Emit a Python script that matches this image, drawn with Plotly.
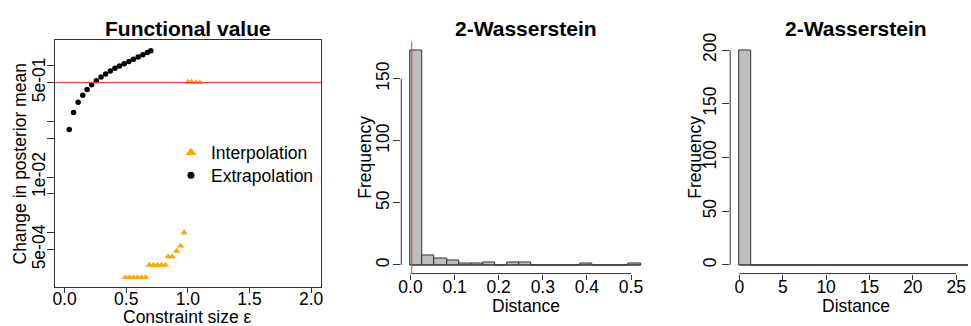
import plotly.graph_objects as go

W, H = 971, 326
FONT = "Liberation Sans, Arial, Helvetica, sans-serif"
FS = 17.5
AX = "#333333"
ORANGE = "#FFA500"

# ---- Functional value: change in posterior mean vs constraint size ----
eps_extrap = [0.038, 0.073, 0.110, 0.148, 0.183, 0.220, 0.258, 0.296, 0.333, 0.371,
              0.409, 0.446, 0.484, 0.522, 0.559, 0.597, 0.635, 0.672, 0.700]
val_extrap = [0.0713, 0.145, 0.220, 0.295, 0.375, 0.453, 0.539, 0.625, 0.713, 0.805,
              0.897, 0.984, 1.08, 1.19, 1.30, 1.44, 1.57, 1.73, 1.85]

eps_interp = [0.495, 0.527, 0.559, 0.591, 0.624, 0.656,
              0.688, 0.720, 0.753, 0.785, 0.817,
              0.841, 0.873, 0.909, 0.941, 0.970,
              1.000, 1.030, 1.065, 1.097]
val_interp = [1.58e-4, 1.58e-4, 1.58e-4, 1.58e-4, 1.58e-4, 1.58e-4,
              2.64e-4, 2.64e-4, 2.64e-4, 2.64e-4, 2.64e-4,
              3.73e-4, 3.73e-4, 4.70e-4, 5.81e-4, 1.01e-3,
              0.51, 0.51, 0.50, 0.50]

ref_value = 0.5
eps_ticks = [0, 0.5, 1.0, 1.5, 2.0]
eps_tick_text = ["0.0", "0.5", "1.0", "1.5", "2.0"]
log_ticks = [1, 0.5, 0.1, 0.05, 0.01, 0.005, 0.001, 0.0005]
log_tick_text = ["", "5e-01", "", "", "1e-02", "", "", "5e-04"]

# ---- 2-Wasserstein distance histograms ----
w2a_edges = [0.0, 0.0275, 0.0550, 0.0824, 0.1099, 0.1374, 0.1649, 0.1924, 0.2198, 0.2473,
             0.2748, 0.3023, 0.3298, 0.3572, 0.3847, 0.4122, 0.4397, 0.4672, 0.4946, 0.5221]
w2a_counts = [173, 8, 5, 4, 1, 1, 2, 0, 2, 2, 0, 0, 0, 0, 1, 0, 0, 0, 1]
w2a_ref = 0.003
w2a_xticks = [0, 0.1, 0.2, 0.3, 0.4, 0.5]
w2a_xtext = ["0.0", "0.1", "0.2", "0.3", "0.4", "0.5"]
w2a_yticks = [0, 50, 100, 150]

w2b_edges = [0.0, 1.41, 2.82, 4.23, 5.64, 7.05, 8.46, 9.87, 11.28, 12.69,
             14.10, 15.51, 16.92, 18.33, 19.74, 21.15, 22.56, 23.97, 25.38, 26.79]
w2b_counts = [200, 0, 0, 0, 0, 0, 0, 0, 0, 0, 0, 0, 0, 0, 0, 0, 0, 0, 0]
w2b_xticks = [0, 5, 10, 15, 20, 25]
w2b_yticks = [0, 50, 100, 150, 200]


def px_x(p):
    return p / W


def px_y(p):
    return 1 - p / H


fig = go.Figure()

# scatter panel (points drawn a little smaller than their legend keys)
fig.add_trace(go.Scatter(
    x=eps_interp, y=val_interp, mode="markers", name="Interpolation", showlegend=False,
    marker=dict(symbol="triangle-up", size=6.5, color=ORANGE),
    xaxis="x", yaxis="y"))
fig.add_trace(go.Scatter(
    x=eps_extrap, y=val_extrap, mode="markers", name="Extrapolation", showlegend=False,
    marker=dict(symbol="circle", size=5.5, color="black"),
    xaxis="x", yaxis="y"))

# legend keys
fig.add_trace(go.Scatter(
    x=[None], y=[None], mode="markers", name="Interpolation", legend="legend",
    marker=dict(symbol="triangle-up", size=9.5, color=ORANGE), xaxis="x", yaxis="y"))
fig.add_trace(go.Scatter(
    x=[None], y=[None], mode="markers", name="Extrapolation", legend="legend2",
    marker=dict(symbol="circle", size=7, color="black"), xaxis="x", yaxis="y"))


def hist_traces(edges, counts, xa, ya):
    centers = [(edges[i] + edges[i + 1]) / 2 for i in range(len(counts))]
    widths = [edges[i + 1] - edges[i] for i in range(len(counts))]
    fig.add_trace(go.Scatter(
        x=[edges[0], edges[-1]], y=[0, 0], mode="lines",
        line=dict(color=AX, width=1), showlegend=False, hoverinfo="skip",
        xaxis=xa, yaxis=ya))
    fig.add_trace(go.Bar(
        x=centers, y=counts, width=widths,
        marker=dict(color="#BEBEBE", line=dict(color=AX, width=1)),
        showlegend=False, xaxis=xa, yaxis=ya))


hist_traces(w2a_edges, w2a_counts, "x2", "y2")
hist_traces(w2b_edges, w2b_counts, "x3", "y3")

tickfont = dict(family=FONT, size=FS, color="black")
common = dict(showgrid=False, zeroline=False, ticks="outside", tickcolor=AX,
              tickfont=tickfont, tickwidth=1)

y_hist_dom = [px_y(272.1), px_y(33.4)]
legend_common = dict(xanchor="left", yanchor="middle", bgcolor="rgba(0,0,0,0)",
                     borderwidth=0, font=dict(family=FONT, size=FS, color="black"))

fig.update_layout(
    width=W, height=H, autosize=False,
    margin=dict(l=0, r=0, t=0, b=0),
    paper_bgcolor="white", plot_bgcolor="white",
    font=dict(family=FONT, size=FS, color="black"),
    bargap=0,
    xaxis=dict(domain=[px_x(52), px_x(320)], range=[-0.08, 2.08], anchor="y",
               tickvals=eps_ticks, ticktext=eps_tick_text, ticklen=5, ticklabelstandoff=-9,
               showline=True, mirror=True, linecolor=AX, linewidth=1, **common),
    yaxis=dict(domain=[px_y(285.7), px_y(32.3)], type="log", range=[-3.969, 0.454],
               anchor="x", tickvals=log_ticks, ticktext=log_tick_text, tickangle=-90,
               ticklen=7, ticklabelstandoff=-5,
               showline=True, mirror=True, linecolor=AX, linewidth=1, **common),
    xaxis2=dict(domain=[px_x(400.7), px_x(651)], range=[-0.0209, 0.543], anchor="y2",
                tickvals=w2a_xticks, ticktext=w2a_xtext, ticklen=5, ticklabelstandoff=-8,
                showline=False, **common),
    yaxis2=dict(domain=y_hist_dom, range=[-6.92, 179.92], anchor="x2",
                tickvals=w2a_yticks, tickangle=-90, ticklen=7, ticklabelstandoff=-3,
                showline=False, **common),
    xaxis3=dict(domain=[px_x(731.7), 1.0], range=[-1.07, 26.37], anchor="y3",
                tickvals=w2b_xticks, ticklen=5, ticklabelstandoff=-8,
                showline=False, **common),
    yaxis3=dict(domain=y_hist_dom, range=[-8, 208], anchor="x3",
                tickvals=w2b_yticks, tickangle=-90, ticklen=7, ticklabelstandoff=-1,
                showline=False, **common),
    legend=dict(x=px_x(169), y=px_y(147.7), **legend_common),
    legend2=dict(x=px_x(169), y=px_y(171), **legend_common),
)

# axis lines spanning first to last tick, reference lines
shapes = [
    dict(type="line", xref="x domain", yref="y", x0=0, x1=1, y0=ref_value, y1=ref_value,
         line=dict(color="#EE3333", width=1)),
    dict(type="line", xref="x2", yref="y2 domain", x0=w2a_xticks[0], x1=w2a_xticks[-1],
         y0=0, y1=0, line=dict(color=AX, width=1)),
    dict(type="line", xref="x2 domain", yref="y2", x0=0, x1=0,
         y0=w2a_yticks[0], y1=w2a_yticks[-1], line=dict(color=AX, width=1)),
    dict(type="line", xref="x2", yref="y2 domain", x0=w2a_ref, x1=w2a_ref, y0=0, y1=1,
         line=dict(color="#EE3333", width=1)),
    dict(type="line", xref="x3", yref="y3 domain", x0=w2b_xticks[0], x1=w2b_xticks[-1],
         y0=0, y1=0, line=dict(color=AX, width=1)),
    dict(type="line", xref="x3 domain", yref="y3", x0=0, x1=0,
         y0=w2b_yticks[0], y1=w2b_yticks[-1], line=dict(color=AX, width=1)),
]
fig.update_layout(shapes=shapes)


def text(s, x, y, size=FS, angle=0, bold=False):
    fig.add_annotation(
        text=f"<b>{s}</b>" if bold else s, x=px_x(x), y=px_y(y),
        xref="paper", yref="paper", showarrow=False, textangle=angle,
        xanchor="center", yanchor="middle", borderpad=0,
        font=dict(family=FONT, size=size, color="black"))


text("Functional value", 186, 20.5, size=21, bold=True)
text("2-Wasserstein", 525.9, 20.5, size=21, bold=True)
text("2-Wasserstein", 857.9, 20.5, size=21, bold=True)
text("Constraint size ε", 186, 317)
text("Distance", 525.9, 305)
text("Distance", 857.9, 305)
text("Change in posterior mean", 17, 159, angle=-90)
text("Frequency", 364.5, 152.7, angle=-90)
text("Frequency", 696.5, 152.7, angle=-90)

fig.write_html("out.html")
